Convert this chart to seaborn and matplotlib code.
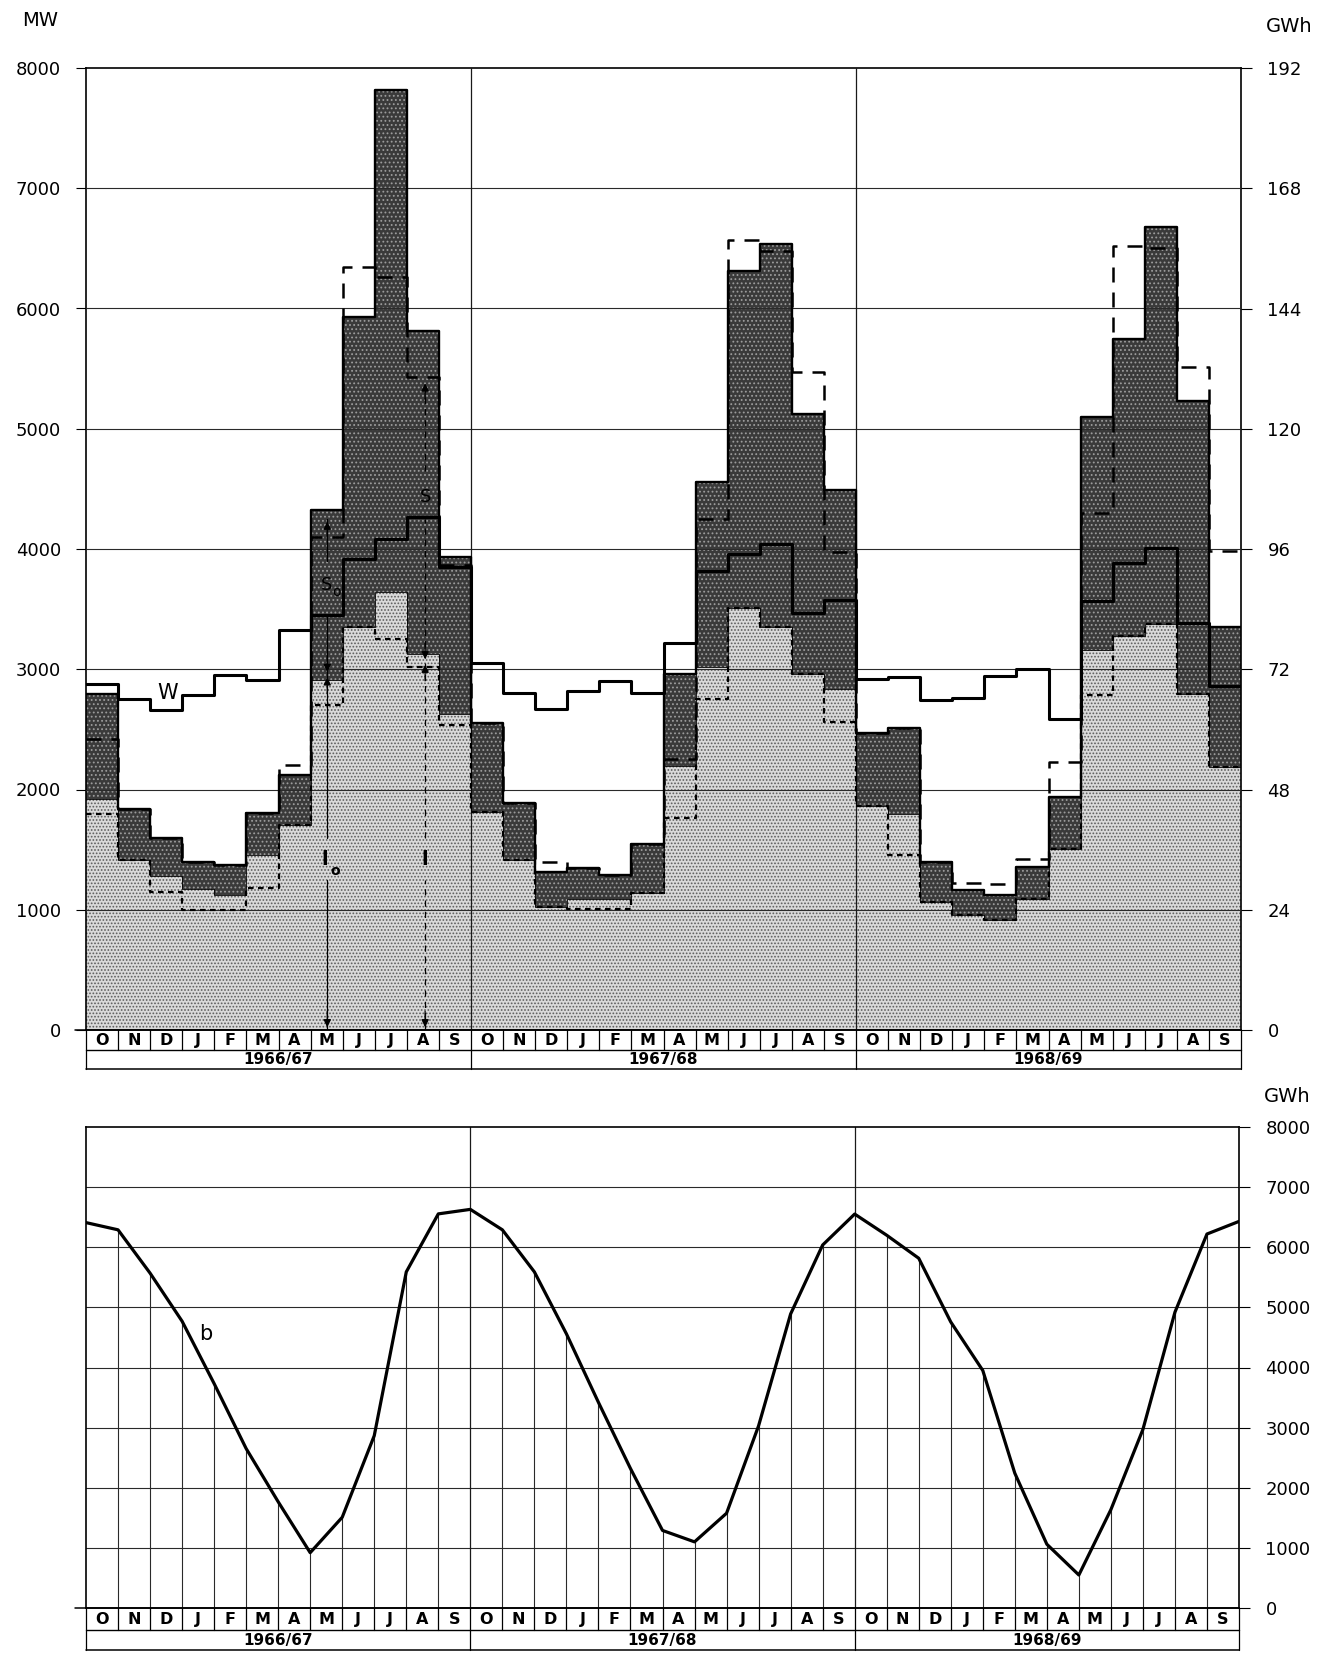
import numpy as np
import pandas as pd
import matplotlib
matplotlib.use("Agg")
import matplotlib.pyplot as plt
import seaborn as sns

# month / year labels
months = ["O", "N", "D", "J", "F", "M", "A", "M", "J", "J", "A", "S"] * 3
years = ["1966/67", "1967/68", "1968/69"]

# top panel, MW per month (Oct 1966 .. Sep 1969)
light = [1921, 1412, 1278, 1170, 1120, 1454, 1704, 2908, 3350, 3642, 3125, 2625,
         1817, 1415, 1027, 1090, 1090, 1140, 2195, 3020, 3510, 3355, 2960, 2835,
         1859, 1800, 1062, 954, 913, 1087, 1502, 3162, 3280, 3378, 2797, 2183]
dark = [2792, 1838, 1596, 1395, 1370, 1805, 2122, 4325, 5926, 7818, 5810, 3933,
        2550, 1890, 1317, 1350, 1290, 1545, 2960, 4555, 6310, 6535, 5120, 4490,
        2473, 2515, 1394, 1162, 1120, 1353, 1934, 5095, 5743, 6680, 5228, 3353]
w_line = [2875, 2750, 2658, 2783, 2950, 2908, 3325, 3450, 3917, 4083, 4267, 3850,
          3048, 2800, 2668, 2818, 2900, 2800, 3220, 3820, 3960, 4040, 3465, 3580,
          2921, 2938, 2747, 2763, 2946, 3004, 2589, 3568, 3884, 4008, 3386, 2863]
dashed = [2423, 1838, 1596, 1395, 1370, 1805, 2207, 4100, 6347, 6264, 5430, 3866,
          2550, 1890, 1395, 1350, 1290, 1545, 2250, 4250, 6570, 6480, 5470, 3975,
          2473, 2515, 1400, 1220, 1210, 1419, 2232, 4299, 6523, 6506, 5510, 3983]
dotted = [1796, 1412, 1145, 1002, 1002, 1178, 1704, 2700, 3350, 3250, 3017, 2533,
          1817, 1415, 1027, 1010, 1010, 1140, 1760, 2750, 3510, 3355, 2960, 2565,
          1859, 1452, 1062, 954, 913, 1087, 1502, 2788, 3280, 3378, 2797, 2183]

# bottom panel, GWh at month boundaries
b_vals = [6410, 6290, 5570, 4770, 3733, 2652, 1767, 920, 1509, 2866, 5590, 6555,
          6630, 6290, 5590, 4560, 3420, 2320, 1290, 1100, 1576, 3030, 4890, 6037,
          6552, 6200, 5817, 4758, 3951, 2242, 1061, 549, 1636, 2970, 4920, 6220, 6430]

mw_ticks = list(range(0, 8001, 1000))
gwh_ticks = list(range(0, 193, 24))

sns.set_theme(style="ticks")
plt.rcParams["font.family"] = ["DejaVu Sans"]
plt.rcParams["text.color"] = "black"
plt.rcParams["xtick.color"] = "black"
plt.rcParams["ytick.color"] = "black"
plt.rcParams["hatch.linewidth"] = 0.8

W_, H_ = 1333, 1654
fig = plt.figure(figsize=(W_ / 100, H_ / 100), dpi=100)
fig.patch.set_facecolor("white")


def rect(x0, y0, x1, y1):
    return [x0 / W_, 1 - y1 / H_, (x1 - x0) / W_, (y1 - y0) / H_]


edges = np.arange(37)


def ext(v):
    return list(v) + [v[-1]]


def step(ax, vals, **kw):
    ax.plot(edges, ext(vals), drawstyle="steps-post", color="black", **kw)


def month_strip(ax):
    ax.set_xlim(0, 36)
    ax.set_ylim(0, 40)
    ax.axis("off")
    ax.plot([-0.35, 36], [40, 40], color="black", lw=1.1, clip_on=False)
    ax.plot([0, 36], [19, 19], color="black", lw=1.0, clip_on=False)
    ax.plot([0, 36], [0, 0], color="black", lw=1.1, clip_on=False)
    for i in range(37):
        ax.plot([i, i], [19, 40], color="black", lw=0.9, clip_on=False)
    for i in [0, 12, 24, 36]:
        ax.plot([i, i], [0, 19], color="black", lw=0.9, clip_on=False)
    for i, m in enumerate(months):
        ax.text(i + 0.5, 29.5, m, ha="center", va="center", fontsize=11.5, fontweight="bold")
    for k, y in enumerate(years):
        ax.text(12 * k + 6, 9.5, y, ha="center", va="center", fontsize=11, fontweight="bold")


# ---------------- top panel ----------------
ax1 = fig.add_axes(rect(86, 68, 1241, 1030))
ax1.set_xlim(0, 36)
ax1.set_ylim(0, 8000)

ax1.fill_between(edges, 0, ext(light), step="post", facecolor="#d9d9d9",
                 edgecolor="#5c5c5c", hatch=".....", linewidth=0, zorder=1)
ax1.fill_between(edges, ext(light), ext(dark), step="post", facecolor="#3a3a3a",
                 edgecolor="#9c9c9c", hatch="....", linewidth=0, zorder=1)

for y in mw_ticks[1:-1]:
    ax1.axhline(y, color="#2a2a2a", lw=0.8, zorder=4)
for x in [12, 24]:
    ax1.axvline(x, color="#1a1a1a", lw=0.9, zorder=4)

step(ax1, light, lw=0.6, zorder=5)
step(ax1, dotted, lw=1.6, linestyle=(0, (2.5, 2)), zorder=6)
step(ax1, dark, lw=1.7, zorder=6)
step(ax1, dashed, lw=1.8, linestyle=(0, (6, 4)), zorder=7)
step(ax1, w_line, lw=2.2, zorder=7)

ax1.set_yticks(mw_ticks)
ax1.set_yticklabels([str(t) for t in mw_ticks], fontsize=13)
ax1.set_xticks([])
ax1.tick_params(axis="y", direction="out", length=7, width=0.8, pad=11, colors="black")
for s in ax1.spines.values():
    s.set_color("black")
    s.set_linewidth(1.2)

ax1r = ax1.twinx()
ax1r.set_ylim(0, 192)
ax1r.set_yticks(gwh_ticks)
ax1r.set_yticklabels([str(t) for t in gwh_ticks], fontsize=13)
ax1r.tick_params(axis="y", direction="out", length=8, width=0.8, pad=11, colors="black")
for s in ax1r.spines.values():
    s.set_visible(False)

# annotations
ax1.text(2.55, 2800, "W", ha="center", va="center", fontsize=15, zorder=9)
ax1.text(7.5, 3700, "S", ha="center", va="center", fontsize=13, zorder=9)
ax1.text(7.8, 3640, "o", ha="center", va="center", fontsize=10, zorder=9)
ax1.text(10.57, 4430, "S", ha="center", va="center", fontsize=13, zorder=9)
ax1.text(7.45, 1415, "l", ha="center", va="center", fontsize=14, fontweight="bold", zorder=9)
ax1.text(7.78, 1320, "o", ha="center", va="center", fontsize=10, fontweight="bold", zorder=9)
ax1.text(10.57, 1415, "l", ha="center", va="center", fontsize=14, fontweight="bold", zorder=9)

xa, xb = 7.52, 10.57
ax1.plot([xa, xa], [0, 1250], color="black", lw=0.9, zorder=8)
ax1.plot([xa, xa], [1600, 3450], color="black", lw=0.9, zorder=8)
ax1.plot([xa, xa], [3900, 4250], color="black", lw=0.9, zorder=8)
ax1.plot([xb, xb], [0, 1250], color="black", lw=0.9, ls=(0, (5, 4)), zorder=8)
ax1.plot([xb, xb], [1600, 4250], color="black", lw=0.9, ls=(0, (5, 4)), zorder=8)
ax1.plot([xb, xb], [4650, 5400], color="black", lw=0.9, ls=(0, (5, 4)), zorder=8)
head = dict(arrowstyle="-|>", color="black", lw=0.9, mutation_scale=11)
for xx, tips in [(xa, [0, 2955, 2955, 4250]), (xb, [0, 3060, 3060, 5400])]:
    ax1.annotate("", xy=(xx, tips[0]), xytext=(xx, tips[0] + 180), arrowprops=head, zorder=9)
    ax1.annotate("", xy=(xx, tips[1]), xytext=(xx, tips[1] - 180), arrowprops=head, zorder=9)
    ax1.annotate("", xy=(xx, tips[2]), xytext=(xx, tips[2] + 180), arrowprops=head, zorder=9)
    ax1.annotate("", xy=(xx, tips[3]), xytext=(xx, tips[3] - 180), arrowprops=head, zorder=9)

fig.text(22 / W_, 1 - 20 / H_, "MW", ha="left", va="center", fontsize=14)
fig.text(1266 / W_, 1 - 27 / H_, "GWh", ha="left", va="center", fontsize=14)

axm1 = fig.add_axes(rect(86, 1030, 1241, 1069))
month_strip(axm1)

# ---------------- bottom panel ----------------
ax2 = fig.add_axes(rect(86, 1127, 1239, 1608))
ax2.set_xlim(0, 36)
ax2.set_ylim(0, 8000)
for y in mw_ticks[1:-1]:
    ax2.axhline(y, color="#2a2a2a", lw=0.8, zorder=1)
inner = [i for i in range(1, 36) if i not in (12, 24)]
ax2.vlines(inner, 0, [b_vals[i] for i in inner], color="#2a2a2a", lw=0.8, zorder=1)
for x in [12, 24]:
    ax2.axvline(x, color="#1a1a1a", lw=0.9, zorder=1)

df_b = pd.DataFrame({"x": edges, "b": b_vals})
sns.lineplot(data=df_b, x="x", y="b", ax=ax2, color="black", lw=2.3, zorder=3)
ax2.text(3.75, 4550, "b", ha="center", va="center", fontsize=15)

ax2.set_xlabel("")
ax2.set_ylabel("")
ax2.set_xticks([])
ax2.yaxis.tick_right()
ax2.set_yticks(mw_ticks)
ax2.set_yticklabels([str(t) for t in mw_ticks], fontsize=13)
ax2.tick_params(axis="y", direction="out", length=8, width=0.8, pad=11, colors="black")
for s in ax2.spines.values():
    s.set_color("black")
    s.set_linewidth(1.2)

fig.text(1264 / W_, 1 - 1097 / H_, "GWh", ha="left", va="center", fontsize=14)

axm2 = fig.add_axes(rect(86, 1608, 1239, 1650))
month_strip(axm2)

fig.savefig("out.png", dpi=100, facecolor="white")
